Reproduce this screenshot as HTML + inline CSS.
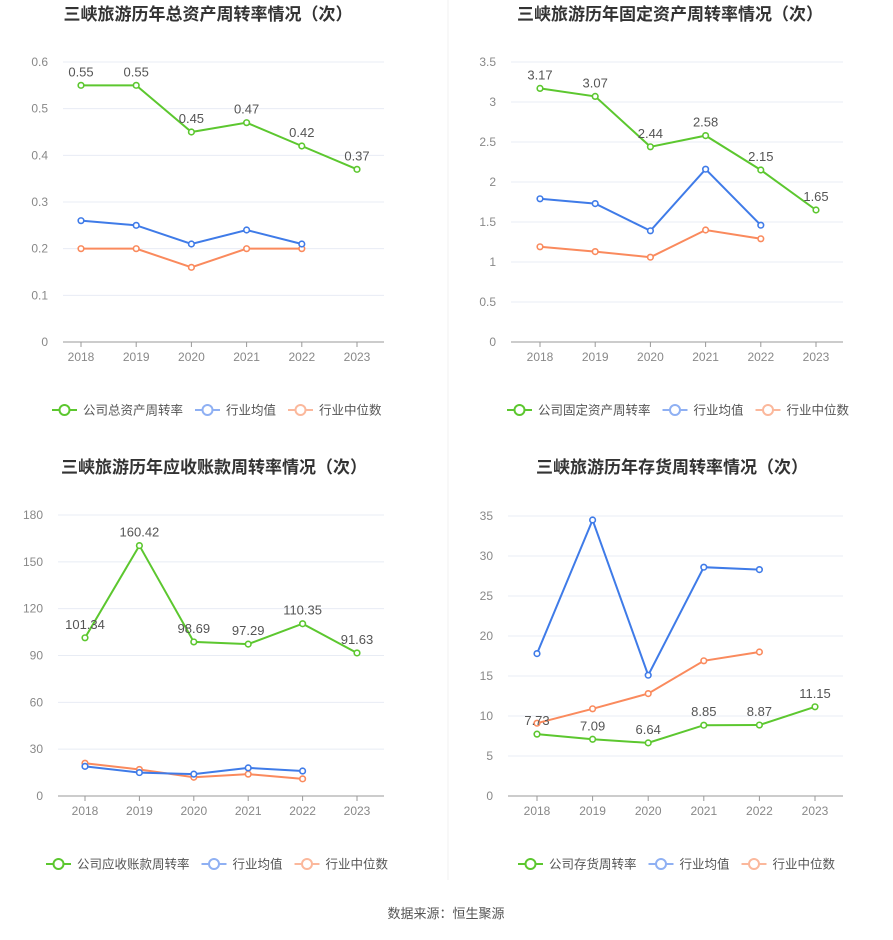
<!DOCTYPE html>
<html><head><meta charset="utf-8"><style>
body{margin:0;background:#fff;font-family:"Liberation Sans","Noto Sans CJK SC",sans-serif}
svg text{font-family:"Liberation Sans","Noto Sans CJK SC",sans-serif}
</style></head><body>
<svg id="s" width="893" height="935" xmlns="http://www.w3.org/2000/svg">
<line x1="448" y1="0" x2="448" y2="880" stroke="#f0f0f0"/>
<text x="446" y="918" text-anchor="middle" font-size="13" fill="#555">数据来源：恒生聚源</text>
</svg>
<script>
const years=["2018","2019","2020","2021","2022","2023"];
const c1Company=[0.55,0.55,0.45,0.47,0.42,0.37];
const c1Avg=[0.26,0.25,0.21,0.24,0.21];
const c1Med=[0.20,0.20,0.16,0.20,0.20];
const c1Ticks=[0,0.1,0.2,0.3,0.4,0.5,0.6];
const c2Company=[3.17,3.07,2.44,2.58,2.15,1.65];
const c2Avg=[1.79,1.73,1.39,2.16,1.46];
const c2Med=[1.19,1.13,1.06,1.40,1.29];
const c2Ticks=[0,0.5,1,1.5,2,2.5,3,3.5];
const c3Company=[101.34,160.42,98.69,97.29,110.35,91.63];
const c3Avg=[19,15,14,18,16];
const c3Med=[21,17,12,14,11];
const c3Ticks=[0,30,60,90,120,150,180];
const c4Company=[7.73,7.09,6.64,8.85,8.87,11.15];
const c4Avg=[17.8,34.5,15.1,28.6,28.3];
const c4Med=[9.1,10.9,12.8,16.9,18.0];
const c4Ticks=[0,5,10,15,20,25,30,35];
const svg=document.getElementById('s');
const NS='http://www.w3.org/2000/svg';
function mk(tag,attrs,parent){const e=document.createElementNS(NS,tag);for(const k in attrs)e.setAttribute(k,attrs[k]);(parent||svg).appendChild(e);return e;}
function chart(cfg){
 const g=mk('g',{});
 
 
 const max=cfg.ticks[cfg.ticks.length-1];
 const y=v=>cfg.y0-(v/max)*(cfg.y0-cfg.yTop);
 const x=i=>cfg.cx0+i*(cfg.cx5-cfg.cx0)/5;
 const t=mk('text',{x:cfg.tx,y:cfg.ty,'text-anchor':'middle','font-size':17,'font-weight':'bold',fill:'#333'},g);
 t.textContent=cfg.title;
 
 
 cfg.ticks.forEach(v=>{
  if(v>0){const l=mk('line',{x1:cfg.ax0,x2:cfg.ax1,y1:y(v),y2:y(v),stroke:'#e8ecf4'},g);
  
  }
  const tt=mk('text',{x:cfg.ax0-15,y:y(v)+4,'text-anchor':'end','font-size':12,fill:'#888'},g);
  tt.textContent=String(v);
  
  
 });
 const ax=mk('line',{x1:cfg.ax0,x2:cfg.ax1,y1:cfg.y0,y2:cfg.y0,stroke:'#999'},g);
 
 
 years.forEach((yr,i)=>{
  const tk=mk('line',{x1:x(i),x2:x(i),y1:cfg.y0,y2:cfg.y0+5,stroke:'#999'},g);
  
  
  const tl=mk('text',{x:x(i),y:cfg.y0+19,'text-anchor':'middle','font-size':12,fill:'#888'},g);
  tl.textContent=yr;
  
  
 });
 const series=[[cfg.med,'#fa8a5d','industry-median-line'],[cfg.avg,'#3f7be8','industry-average-line'],[cfg.co,'#5cc72f','company-line']];
 series.forEach(([d,c,n])=>{
  const p=mk('polyline',{points:d.map((v,i)=>x(i)+','+y(v)).join(' '),fill:'none',stroke:c,'stroke-width':2},g);
  
  
  d.forEach((v,i)=>{const ci=mk('circle',{cx:x(i),cy:y(v),r:2.8,fill:'#fff',stroke:c,'stroke-width':1.6},g);
   
   });
 });
 cfg.co.forEach((v,i)=>{
  const l=mk('text',{x:x(i),y:y(v)-9,'text-anchor':'middle','font-size':13,fill:'#555'},g);
  l.textContent=String(v);
  
  
 });
 const lg=[[cfg.leg,'#5cc72f'],['行业均值','#8fb0f3'],['行业中位数','#fbb89c']];
 let lx=cfg.lx;
 lg.forEach(([txt,c],k)=>{
  const e=mk('g',{},g);
  
  
  mk('line',{x1:lx,x2:lx+25,y1:cfg.ly,y2:cfg.ly,stroke:c,'stroke-width':2},e);
  mk('circle',{cx:lx+12.5,cy:cfg.ly,r:5,fill:'#fff',stroke:c,'stroke-width':2},e);
  const tx=mk('text',{x:lx+31,y:cfg.ly+4.5,'font-size':12.5,fill:'#555'},e);
  tx.textContent=txt;
  lx+=31+txt.length*12.5+12;
 });
}
chart({name:'total-asset-turnover-chart',title:'三峡旅游历年总资产周转率情况（次）',tx:208,ty:20,ax0:63,ax1:384,y0:342,yTop:62,cx0:81,cx5:357,ticks:c1Ticks,co:c1Company,avg:c1Avg,med:c1Med,leg:'公司总资产周转率',lx:52,ly:410});
chart({name:'fixed-asset-turnover-chart',title:'三峡旅游历年固定资产周转率情况（次）',tx:670,ty:20,ax0:511,ax1:843,y0:342,yTop:62,cx0:540,cx5:816,ticks:c2Ticks,co:c2Company,avg:c2Avg,med:c2Med,leg:'公司固定资产周转率',lx:507,ly:410});
chart({name:'receivables-turnover-chart',title:'三峡旅游历年应收账款周转率情况（次）',tx:214,ty:473,ax0:58,ax1:384,y0:796,yTop:515,cx0:85,cx5:357,ticks:c3Ticks,co:c3Company,avg:c3Avg,med:c3Med,leg:'公司应收账款周转率',lx:46,ly:864});
chart({name:'inventory-turnover-chart',title:'三峡旅游历年存货周转率情况（次）',tx:672,ty:473,ax0:508,ax1:843,y0:796,yTop:516,cx0:537,cx5:815,ticks:c4Ticks,co:c4Company,avg:c4Avg,med:c4Med,leg:'公司存货周转率',lx:518,ly:864});
</script>
</body></html>
